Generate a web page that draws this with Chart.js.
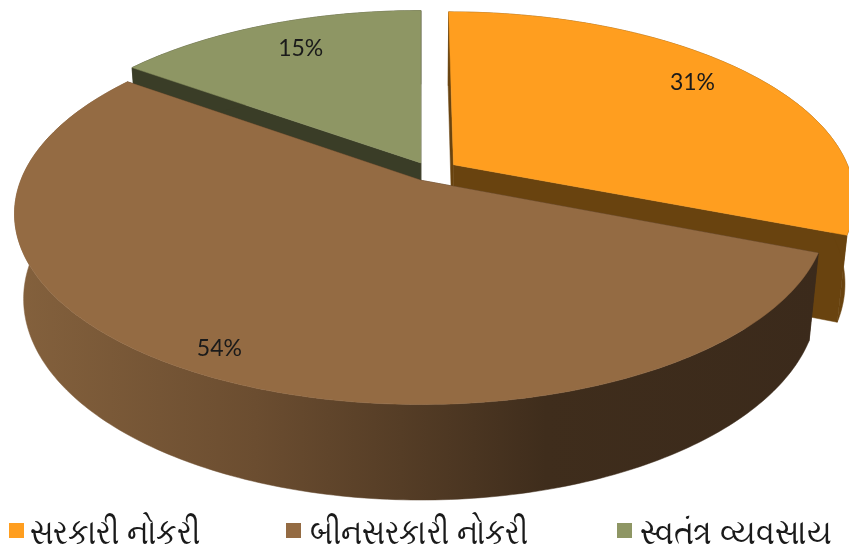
<!DOCTYPE html>
<html><head><meta charset="utf-8">
<style>html,body{margin:0;padding:0;background:#fff}canvas{display:block}</style>
<script src="https://cdn.jsdelivr.net/npm/chart.js@4"></script>
</head><body><canvas id="c" width="849" height="552"></canvas>
<script>
const categories = ['સરકારી નોકરી', 'બીનસરકારી નોકરી', 'સ્વતંત્ર વ્યવસાય'];
const shares = [31, 54, 15];
const percentLabels = ['31%', '54%', '15%'];
const topColors = ['#FF9E1F', '#946B43', '#8E9664'];
const faceColors = ['#69430F', '#3C2B1B', '#3A3D27'];
const sliceOffsets = [16, 12, 12.6];
const labelRadii = [0.82, 0.9, 0.8];
const labelNudges = [[-6,-6],[0,-1],[7,-1]];
const legendBoxX = [9, 286, 617];
const legendTextX = [30, 310, 640];
const legendTextW = [170, 218, 192];
const paintOrder = [2, 0, 1];

// Perspective camera of the 3D pie
const cam = {cx:421, cy:180, F:2015, sinE:.462, cosE:.887, D:5.04, ox:.0246, oy:-.0447, depth:.242};
function project(X, Y, Z) {
  const xp = X + cam.ox, yp = Y + cam.oy;
  const yc = yp * cam.sinE - Z * cam.cosE;
  const zc = cam.D - yp * cam.cosE - Z * cam.sinE;
  return [cam.cx + cam.F * xp / zc, cam.cy + cam.F * yc / zc];
}
function sliceGeom(el) {
  const p = el.getProps(['startAngle','endAngle','outerRadius']);
  const mid = (p.startAngle + p.endAngle) / 2;
  const e = el.options.offset / p.outerRadius;
  return {a0:p.startAngle, a1:p.endAngle, mid, ex:Math.cos(mid)*e, ey:Math.sin(mid)*e};
}
function arcPts(g, Z, rev) {
  const n = Math.max(8, Math.round((g.a1-g.a0)*60)), pts = [];
  for (let i = 0; i <= n; i++) {
    const a = g.a0 + (g.a1-g.a0)*i/n;
    pts.push(project(g.ex+Math.cos(a), g.ey+Math.sin(a), Z));
  }
  return rev ? pts.reverse() : pts;
}
function fillPoly(ctx, pts, fill) {
  ctx.beginPath();
  pts.forEach((p,i)=> i ? ctx.lineTo(p[0],p[1]) : ctx.moveTo(p[0],p[1]));
  ctx.closePath();
  ctx.fillStyle = fill; ctx.fill();
  ctx.strokeStyle = fill; ctx.lineWidth = .5; ctx.stroke();
}
const pie3d = {
  id:'pie3d',
  beforeDraw(chart) {
    const legend = chart.legend;
    legend.draw = function () {
      const ctx = chart.ctx;
      ctx.save();
      ctx.font = '35px "Noto Sans", "DejaVu Sans", sans-serif';
      ctx.textAlign = 'left'; ctx.textBaseline = 'alphabetic';
      legend.legendItems.forEach((item, i) => {
        ctx.fillStyle = item.fillStyle;
        ctx.fillRect(legendBoxX[i], 523, 15, 15);
        ctx.fillStyle = '#1a1a1a';
        ctx.fillText(item.text, legendTextX[i], 544, legendTextW[i]);
      });
      ctx.restore();
    };
  },
  beforeDatasetDraw(chart, args) {
    const ctx = chart.ctx, meta = args.meta, h = -cam.depth;
    ctx.save();
    paintOrder.forEach(i => {
      const g = sliceGeom(meta.data[i]);
      const apexT = project(g.ex, g.ey, 0), apexB = project(g.ex, g.ey, h);
      [g.a0, g.a1].forEach(a => {
        const x = g.ex+Math.cos(a), y = g.ey+Math.sin(a);
        fillPoly(ctx, [apexT, project(x,y,0), project(x,y,h), apexB], faceColors[i]);
      });
      let wall = faceColors[i];
      if (i === 1) {
        wall = ctx.createLinearGradient(14,0,820,0);
        wall.addColorStop(0,'#84613D');
        wall.addColorStop(.3,'#6B4D30');
        wall.addColorStop(.66,'#3F2D1C');
        wall.addColorStop(1,'#3B2A1B');
      }
      fillPoly(ctx, arcPts(g,0).concat(arcPts(g,h,true)), wall);
      fillPoly(ctx, [apexT].concat(arcPts(g,0)), topColors[i]);
    });
    ctx.fillStyle = '#1a1a1a';
    ctx.font = '23px Lato, "Open Sans", sans-serif';
    ctx.textAlign = 'center'; ctx.textBaseline = 'middle';
    meta.data.forEach((el,i) => {
      const g = sliceGeom(el), r = labelRadii[i];
      const p = project(g.ex+Math.cos(g.mid)*r, g.ey+Math.sin(g.mid)*r, 0);
      ctx.fillText(percentLabels[i], p[0]+labelNudges[i][0], p[1]+labelNudges[i][1]);
    });
    ctx.restore();
    return false;
  }
};
new Chart(document.getElementById('c'), {
  type:'pie',
  data:{labels:categories, datasets:[{data:shares, backgroundColor:topColors, borderWidth:0, offset:sliceOffsets, hoverOffset:0}]},
  plugins:[pie3d],
  options:{
    responsive:false, animation:false,
    plugins:{
      tooltip:{enabled:false},
      legend:{position:'bottom', labels:{boxWidth:15, boxHeight:15, padding:40, color:'#1a1a1a',
        font:{size:28, family:'"Noto Sans", "DejaVu Sans", sans-serif'}}}
    }
  }
});
</script></body></html>
